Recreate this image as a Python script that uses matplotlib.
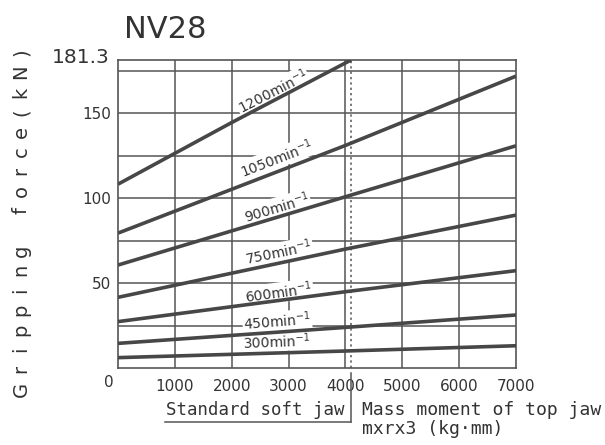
import numpy as np
import matplotlib.pyplot as plt

# --- chart values ---
speeds = ['1200', '1050', '900', '750', '600', '450', '300']
mass_pts = {
    '1200': [0, 2000, 4100],
    '1050': [0, 4000, 7000],
    '900': [0, 4000, 7000],
    '750': [0, 4000, 7000],
    '600': [0, 4000, 7000],
    '450': [0, 4000, 7000],
    '300': [0, 4000, 7000],
}
force_pts = {
    '1200': [108.2, 144.5, 181.3],
    '1050': [79.4, 131.0, 171.8],
    '900': [60.6, 100.8, 130.8],
    '750': [41.6, 70.0, 90.0],
    '600': [27.3, 44.9, 57.3],
    '450': [14.5, 23.9, 31.2],
    '300': [6.1, 10.0, 13.1],
}
# label anchor (mass, force) and rotation for each curve label
label_pos = {
    '1200': (2720, 163.0, 27),
    '1050': (2790, 123.5, 21),
    '900': (2790, 94.5, 16.5),
    '750': (2830, 68.0, 11.5),
    '600': (2830, 44.5, 7.5),
    '450': (2800, 27.5, 4.5),
    '300': (2800, 15.8, 2),
}
x_ticks = [1000, 2000, 3000, 4000, 5000, 6000, 7000]
y_ticks = [50, 100, 150]
y_grid = [25, 50, 75, 100, 125, 150, 175]
x_grid = [1000, 2000, 3000, 4000, 5000, 6000]
y_max = 181.3
std_jaw = 4100

ink = '#333333'
grid_c = '#555555'
line_c = '#474747'

fig = plt.figure(figsize=(6.05, 4.45), dpi=100)
ax = fig.add_axes([118 / 605, 77 / 445, 398 / 605, 308 / 445])
ax.set_xlim(0, 7000)
ax.set_ylim(0, y_max)

for y in y_grid:
    ax.axhline(y, color=grid_c, lw=1.1, zorder=1)
for x in x_grid:
    ax.axvline(x, color=grid_c, lw=1.1, zorder=1)
ax.axvline(std_jaw, color=grid_c, lw=1.1, ls=(0, (1.5, 2)), zorder=1)

for s in speeds:
    ax.plot(mass_pts[s], force_pts[s], color=line_c, lw=2.6,
            solid_capstyle='butt', zorder=3, clip_on=True)
    lx, ly, rot = label_pos[s]
    # white box hides the grid behind the label but stays under the curves
    ax.text(lx, ly, s + r'min$^{-1}$', fontsize=10, color=ink, rotation=rot,
            ha='center', va='center', rotation_mode='anchor', zorder=2,
            bbox=dict(facecolor='white', edgecolor='none', pad=0.5))

for sp in ax.spines.values():
    sp.set_color(grid_c)
    sp.set_linewidth(1.2)

ax.set_xticks(x_ticks)
ax.set_yticks(y_ticks)
ax.tick_params(length=0, labelsize=11, labelcolor=ink)
ax.tick_params(axis='x', pad=8)
ax.tick_params(axis='y', pad=5)

ax.text(-160, -8.5, '0', fontsize=11, color=ink, ha='center', va='center',
        clip_on=False)
ax.text(-140, y_max + 1.5, '181.3', fontsize=14.5, color=ink, ha='right',
        va='center', clip_on=False)

# standard soft jaw bracket below the axis
ax.plot([std_jaw, std_jaw], [-3, -31.5], color=grid_c, lw=1.1, clip_on=False)
ax.plot([830, std_jaw], [-31.5, -31.5], color=grid_c, lw=1.1, clip_on=False)
ax.text(2420, -25, 'Standard soft jaw', family='DejaVu Sans Mono',
        fontsize=12.5, color=ink, ha='center', va='center', clip_on=False)

fig.text(362 / 605, 1 - 410 / 445, 'Mass moment of top jaw',
         family='DejaVu Sans Mono', fontsize=13, color=ink, va='center')
fig.text(362 / 605, 1 - 429 / 445, 'mxrx3 (kg·mm)',
         family='DejaVu Sans Mono', fontsize=13, color=ink, va='center')

fig.text(165 / 605, 1 - 30 / 445, 'NV28', fontsize=22, color=ink,
         ha='center', va='center')

# spaced vertical axis label
ylab = 'Gripping force(kN)'
for i, ch in enumerate(ylab):
    fig.text(21 / 605, 1 - (389 - i * 19.8) / 445, ch, fontsize=14,
             color=ink, rotation=90, ha='center', va='center')

fig.savefig('out.png', dpi=100)
